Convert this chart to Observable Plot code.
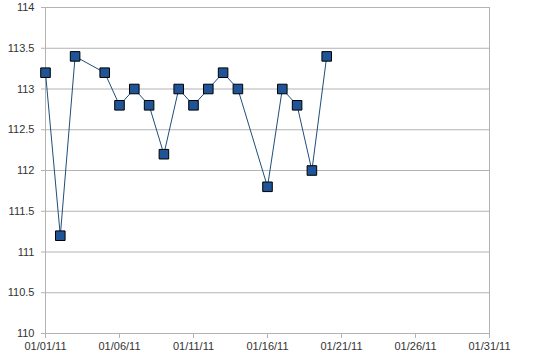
<!DOCTYPE html>
<html>
<head>
<meta charset="utf-8">
<script src="https://cdn.jsdelivr.net/npm/d3@7"></script>
<script src="https://cdn.jsdelivr.net/npm/@observablehq/plot@0.6"></script>
<style>
  html, body { margin: 0; padding: 0; background: #fff; }
  #chart svg { display: block; }
</style>
</head>
<body>
<div id="chart"></div>
<script>
const dates = ["2011-01-01","2011-01-02","2011-01-03","2011-01-05","2011-01-06","2011-01-07","2011-01-08","2011-01-09","2011-01-10","2011-01-11","2011-01-12","2011-01-13","2011-01-14","2011-01-16","2011-01-17","2011-01-18","2011-01-19","2011-01-20"];
const values = [113.2,111.2,113.4,113.2,112.8,113.0,112.8,112.2,113.0,112.8,113.0,113.2,113.0,111.8,113.0,112.8,112.0,113.4];
const yTicks = [110,110.5,111,111.5,112,112.5,113,113.5,114];
const xTickLabels = ["01/01/11","01/06/11","01/11/11","01/16/11","01/21/11","01/26/11","01/31/11"];

const parse = d3.utcParse("%Y-%m-%d");
const data = dates.map((d, i) => ({date: parse(d), value: values[i]}));
const xTicks = xTickLabels.map(s => d3.utcParse("%m/%d/%y")(s));
const xDomain = [xTicks[0], xTicks[xTicks.length - 1]];

const chart = Plot.plot({
  width: 533,
  height: 364,
  marginLeft: 45,
  marginRight: 44,
  marginTop: 7,
  marginBottom: 31,
  style: {fontFamily: "Liberation Sans, Arial, sans-serif", fontSize: "11px", color: "#333", background: "#fff"},
  x: {type: "utc", domain: xDomain},
  y: {domain: [110, 114]},
  marks: [
    Plot.ruleY(yTicks, {stroke: "#b3b3b3", strokeWidth: 1}),
    Plot.ruleX([xDomain[0], xDomain[1]], {stroke: "#b3b3b3", strokeWidth: 1}),
    Plot.axisY({ticks: yTicks, tickSize: 4, tickPadding: 7, stroke: "#b3b3b3", tickFormat: d => String(d), fill: "#333", label: null}),
    Plot.axisX({ticks: xTicks, tickSize: 5, tickPadding: 4, stroke: "#b3b3b3", tickFormat: d3.utcFormat("%m/%d/%y"), fill: "#333", label: null}),
    Plot.line(data, {x: "date", y: "value", stroke: "#1f4e79", strokeWidth: 1}),
    Plot.dot(data, {x: "date", y: "value", symbol: "square", r: 5.4, fill: "#1f5496", stroke: "#000", strokeWidth: 1})
  ]
});
document.getElementById("chart").appendChild(chart);
</script>
</body>
</html>
